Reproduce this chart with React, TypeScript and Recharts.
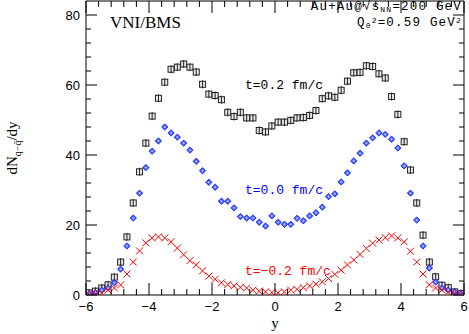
import React from 'react';
import { ScatterChart, Scatter, XAxis, YAxis, ReferenceArea } from 'recharts';

// rapidity bins
const rapidity = [
  -5.9, -5.7, -5.5, -5.3, -5.1, -4.9, -4.7, -4.5, -4.3, -4.1,
  -3.9, -3.7, -3.5, -3.3, -3.1, -2.9, -2.7, -2.5, -2.3, -2.1,
  -1.9, -1.7, -1.5, -1.3, -1.1, -0.9, -0.7, -0.5, -0.3, -0.1,
  0.1, 0.3, 0.5, 0.7, 0.9, 1.1, 1.3, 1.5, 1.7, 1.9,
  2.1, 2.3, 2.5, 2.7, 2.9, 3.1, 3.3, 3.5, 3.7, 3.9,
  4.1, 4.3, 4.5, 4.7, 4.9, 5.1, 5.3, 5.5, 5.7, 5.9,
];

// t = 0.2 fm/c
const tPlus = [
  0.6, 1.1, 2.0, 2.9, 5.1, 9.4, 16.6, 26.3, 35.2, 43.4,
  51.1, 56.2, 60.8, 64.5, 65.1, 66.0, 65.1, 63.7, 60.2, 57.4,
  57.0, 55.8, 52.2, 51.0, 52.2, 50.6, 50.6, 47.0, 46.6, 48.3,
  49.4, 49.4, 49.9, 50.6, 50.7, 51.3, 52.7, 56.1, 56.9, 56.5,
  58.5, 61.1, 63.5, 63.6, 65.5, 65.3, 63.2, 62.0, 56.7, 51.6,
  43.8, 35.7, 26.3, 17.1, 9.4, 5.2, 2.8, 2.1, 0.9, 0.4,
];

// t = 0.0 fm/c
const tZero = [
  0.3, 0.7, 1.4, 2.0, 3.5, 7.4, 14.0, 22.0, 29.1, 36.4,
  41.1, 44.0, 48.0, 46.3, 45.1, 43.4, 41.4, 38.2, 35.5, 32.2,
  30.8, 26.8, 26.8, 24.9, 22.4, 22.0, 22.0, 20.8, 19.7, 22.6,
  20.8, 20.2, 20.2, 21.9, 21.2, 22.6, 23.5, 25.1, 28.1, 28.9,
  32.3, 34.9, 38.3, 40.5, 43.4, 44.9, 46.3, 45.9, 44.5, 42.0,
  36.9, 29.1, 21.4, 14.0, 7.7, 3.7, 2.0, 1.4, 0.8, 0.3,
];

// t = -0.2 fm/c
const tMinus = [
  0.2, 0.5, 0.6, 1.4, 2.0, 2.9, 6.0, 9.4, 12.6, 14.9,
  16.3, 16.6, 16.3, 15.2, 13.4, 11.5, 9.8, 8.6, 6.9, 5.4,
  4.5, 3.5, 3.0, 2.6, 2.2, 2.0, 1.4, 1.1, 0.9, 0.7,
  0.6, 0.9, 1.4, 1.6, 2.1, 2.6, 3.1, 3.8, 4.7, 5.9,
  7.1, 8.6, 10.0, 11.6, 13.3, 14.8, 15.7, 16.4, 16.9, 16.3,
  15.2, 12.5, 9.4, 6.0, 2.9, 2.0, 1.4, 0.8, 0.5, 0.2,
];

const xTicks = [
  -6, -5.6, -5.2, -4.8, -4.4, -4, -3.6, -3.2, -2.8, -2.4, -2, -1.6, -1.2, -0.8, -0.4,
  0, 0.4, 0.8, 1.2, 1.6, 2, 2.4, 2.8, 3.2, 3.6, 4, 4.4, 4.8, 5.2, 5.6, 6,
];
const xLabels = [-6, -4, -2, 0, 2, 4, 6];
const yTicks = [0, 4, 8, 12, 16, 20, 24, 28, 32, 36, 40, 44, 48, 52, 56, 60, 64, 68, 72, 76, 80];
const yLabels = [0, 20, 40, 60, 80];

const W = 469;
const H = 334;
const LEFT = 86;
const RIGHT = 464;
const TOP = 1;
const BOTTOM = 295;

const toRows = (vals: number[]) => rapidity.map((y, i) => ({ y, v: vals[i] }));

const fmt = (v: number) => (v < 0 ? '\u2212' + Math.abs(v) : String(v));

const XTick = (props: any) => {
  const { x, payload } = props;
  const major = xLabels.includes(payload.value);
  const len = major ? 12 : 6;
  return (
    <g>
      <line x1={x} x2={x} y1={BOTTOM} y2={BOTTOM - len} stroke="#000" />
      <line x1={x} x2={x} y1={TOP} y2={TOP + len} stroke="#000" />
      {major && (
        <text x={x} y={BOTTOM + 16} textAnchor="middle" fontSize={13} fontFamily="Liberation Sans, Arial, sans-serif" fill="#000">
          {fmt(payload.value)}
        </text>
      )}
    </g>
  );
};

const YTick = (props: any) => {
  const { y, payload } = props;
  const major = yLabels.includes(payload.value);
  const len = major ? 11 : 5;
  return (
    <g>
      <line x1={LEFT} x2={LEFT + len} y1={y} y2={y} stroke="#000" />
      <line x1={RIGHT} x2={RIGHT - len} y1={y} y2={y} stroke="#000" />
      {major && (
        <text x={LEFT - 6} y={y + 4.5} textAnchor="end" fontSize={13} fontFamily="Liberation Sans, Arial, sans-serif" fill="#000">
          {payload.value}
        </text>
      )}
    </g>
  );
};

const SquareMark = (props: any) => {
  const { cx, cy } = props;
  return (
    <g>
      <rect x={cx - 3} y={cy - 3} width={6} height={6} fill="#e8e8e8" stroke="#222" strokeWidth={1} />
      <line x1={cx} x2={cx} y1={cy - 4} y2={cy + 4} stroke="#222" strokeWidth={1} />
    </g>
  );
};

const DiamondMark = (props: any) => {
  const { cx, cy } = props;
  return (
    <g>
      <polygon
        points={`${cx},${cy - 3.2} ${cx + 3.2},${cy} ${cx},${cy + 3.2} ${cx - 3.2},${cy}`}
        fill="#3a55ff"
        stroke="#1020ff"
        strokeWidth={0.8}
      />
      <line x1={cx - 1.4} x2={cx + 1.4} y1={cy} y2={cy} stroke="#c8d0ff" strokeWidth={0.8} />
      <line x1={cx} x2={cx} y1={cy - 1.4} y2={cy + 1.4} stroke="#c8d0ff" strokeWidth={0.8} />
    </g>
  );
};

const CrossMark = (props: any) => {
  const { cx, cy } = props;
  const r = 3.5;
  return (
    <g stroke="#ff0000" strokeWidth={1}>
      <line x1={cx - r} x2={cx + r} y1={cy - r} y2={cy + r} />
      <line x1={cx - r} x2={cx + r} y1={cy + r} y2={cy - r} />
    </g>
  );
};

const mono = 'Liberation Mono, DejaVu Sans Mono, monospace';
const serif = 'Liberation Serif, DejaVu Serif, serif';

export default function App() {
  return (
    <div style={{ position: 'absolute', left: 0, top: 0, width: W, height: H, background: '#fff' }}>
      <ScatterChart
        width={W}
        height={H}
        margin={{ top: TOP, right: W - RIGHT, bottom: H - BOTTOM - 1, left: LEFT - 1 }}
      >
        <XAxis
          type="number"
          dataKey="y"
          domain={[-6, 6]}
          ticks={xTicks}
          interval={0}
          height={1}
          axisLine={false}
          tickLine={false}
          tick={<XTick />}
          allowDataOverflow
        />
        <YAxis
          type="number"
          dataKey="v"
          domain={[0, 84]}
          ticks={yTicks}
          interval={0}
          width={1}
          axisLine={false}
          tickLine={false}
          tick={<YTick />}
          allowDataOverflow
        />
        <ReferenceArea x1={-6} x2={6} y1={0} y2={84} fill="none" fillOpacity={0} stroke="#000" strokeWidth={1} ifOverflow="visible" />
        <Scatter data={toRows(tPlus)} shape={<SquareMark />} isAnimationActive={false} />
        <Scatter data={toRows(tZero)} shape={<DiamondMark />} isAnimationActive={false} />
        <Scatter data={toRows(tMinus)} shape={<CrossMark />} isAnimationActive={false} />
      </ScatterChart>
      <svg width={W} height={H} style={{ position: 'absolute', left: 0, top: 0, pointerEvents: 'none' }}>
        <text x={110} y={28} fontFamily={serif} fontSize={17} fill="#000">VNI/BMS</text>
        <text x={462} y={10} textAnchor="end" fontFamily={mono} fontSize={12.5} letterSpacing={1.2} fill="#000">
          Au+Au@√s<tspan dy={2} fontSize={8}>NN</tspan><tspan dy={-2}>=200 GeV</tspan>
        </text>
        <text x={462} y={26} textAnchor="end" fontFamily={mono} fontSize={12.5} letterSpacing={1.2} fill="#000">
          Q<tspan dy={2} fontSize={8}>0</tspan><tspan dy={-5} fontSize={8}>2</tspan><tspan dy={3}>=0.59 GeV</tspan><tspan dy={-3} fontSize={8}>2</tspan>
        </text>
        <text x={245} y={89} fontFamily={mono} fontSize={13} fill="#000">t=0.2 fm/c</text>
        <text x={245} y={194} fontFamily={mono} fontSize={13} fill="#0000ff">t=0.0 fm/c</text>
        <text x={245} y={275} fontFamily={mono} fontSize={13} fill="#ff0000">t=−0.2 fm/c</text>
        <text transform="translate(17,148) rotate(-90)" textAnchor="middle" fontFamily={serif} fontSize={15} fill="#000">
          dN<tspan dy={4} fontSize={10}>q−q̄</tspan><tspan dy={-4}>/dy</tspan>
        </text>
        <text x={275} y={328} textAnchor="middle" fontFamily={serif} fontSize={15} fill="#000">y</text>
      </svg>
    </div>
  );
}
